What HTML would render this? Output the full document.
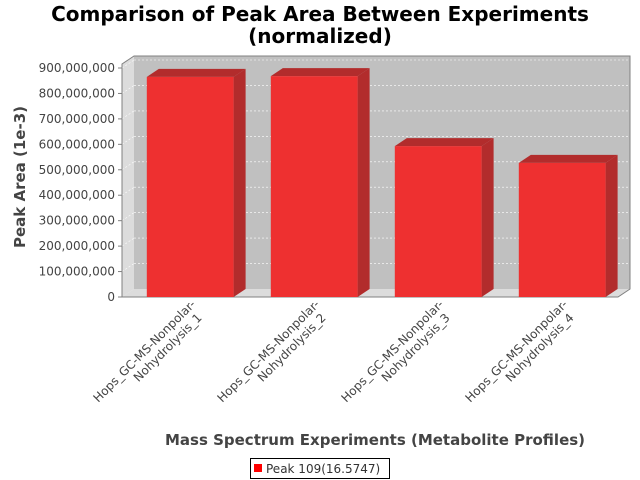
<!DOCTYPE html>
<html><head><meta charset="utf-8"><style>
html,body{margin:0;padding:0;background:#fff}
svg{display:block;font-family:"DejaVu Sans","Liberation Sans",sans-serif}
</style></head><body>
<svg id="chart" width="640" height="480" xmlns="http://www.w3.org/2000/svg">
<text x="320" y="21" text-anchor="middle" font-size="20" font-weight="bold">Comparison of Peak Area Between Experiments</text>
<text x="320" y="43" text-anchor="middle" font-size="20" font-weight="bold">(normalized)</text>
<polygon points="122,64 134,56 134,289 122,297" fill="#dcdcdc"/>
<polygon points="122,297 134,289 630,289 618,297" fill="#dcdcdc"/>
<rect x="134" y="56" width="496" height="233" fill="#c0c0c0"/>
<g id="grid"></g>
<polyline points="122,297 122,64 134,56 630,56 630,289 618,297 122,297" fill="none" stroke="#808080" stroke-width="1"/>
<g id="yaxis"></g>
<g id="bars"></g>
<g id="xlabels"></g>
<text transform="translate(25,177) rotate(-90)" text-anchor="middle" font-size="15" font-weight="bold" fill="#444">Peak Area (1e-3)</text>
<text x="375" y="445" text-anchor="middle" font-size="15" font-weight="bold" fill="#444">Mass Spectrum Experiments (Metabolite Profiles)</text>
<g>
<rect x="250.5" y="458.5" width="139" height="20" fill="#fff" stroke="#000"/>
<rect x="254" y="464" width="8" height="8" fill="#ff0000"/>
<text x="266" y="473" font-size="12" fill="#333">Peak 109(16.5747)</text>
</g>
</svg>
<script>
const categories = ["Hops_GC-MS-Nonpolar-|Nohydrolysis_1","Hops_GC-MS-Nonpolar-|Nohydrolysis_2","Hops_GC-MS-Nonpolar-|Nohydrolysis_3","Hops_GC-MS-Nonpolar-|Nohydrolysis_4"];
const values = [865000000, 868000000, 593000000, 527000000];
const yTicks = [0,100000000,200000000,300000000,400000000,500000000,600000000,700000000,800000000,900000000];
const yMax = 900000000;

const NS="http://www.w3.org/2000/svg";
const y0=297, yTop=68, dx=12, dy=8, plotL=122, plotR=618;
function yScale(v){return y0-(v/yMax)*(y0-yTop);}
const band=(plotR-plotL)/categories.length;
function xScale(i){return plotL+band*i+band*0.2;}
const barW=band*0.7;
function mk(tag,attrs,parent){const e=document.createElementNS(NS,tag);for(const k in attrs)e.setAttribute(k,attrs[k]);parent.appendChild(e);return e;}
const grid=document.getElementById('grid'), yaxis=document.getElementById('yaxis'), bars=document.getElementById('bars'), xl=document.getElementById('xlabels');
yTicks.forEach(t=>{
  const y=yScale(t);
  if(t>0){
    const g=mk('line',{x1:134,x2:630,y1:y-dy,y2:y-dy,stroke:'#fff','stroke-dasharray':'2,2','stroke-width':0.6},grid);
    
    
    const g2=mk('line',{x1:122,x2:134,y1:y,y2:y-dy,stroke:'#fff','stroke-dasharray':'2,2','stroke-width':0.6},grid);
    
    
  }
  const tk=mk('line',{x1:118,x2:122,y1:y,y2:y,stroke:'#808080'},yaxis);
  
  
  const tx=mk('text',{x:115,y:y+4,'text-anchor':'end','font-size':12,fill:'#444'},yaxis);
  tx.textContent=t.toLocaleString('en-US');
  
  
});
values.forEach((v,i)=>{
  const x=xScale(i), y=yScale(v);
  const g=mk('g',{},bars);
  
  
  mk('polygon',{points:`${x},${y} ${x+dx},${y-dy} ${x+barW+dx},${y-dy} ${x+barW},${y}`,fill:'#b22c2c'},g);
  mk('polygon',{points:`${x+barW},${y} ${x+barW+dx},${y-dy} ${x+barW+dx},${y0-dy} ${x+barW},${y0}`,fill:'#b22c2c'},g);
  mk('rect',{x:x,y:y,width:barW,height:y0-y,fill:'#ee3030'},g);
  const cx=x+barW/2+6;
  const parts=categories[i].split('|');
  const t=mk('text',{transform:`translate(${cx},305) rotate(-45)`,'text-anchor':'end','font-size':12,fill:'#444'},xl);
  
  
  const s1=mk('tspan',{x:0,y:0},t); s1.textContent=parts[0];
  const s2=mk('tspan',{x:-5,y:14},t); s2.textContent=parts[1];
});
</script>
</body></html>
